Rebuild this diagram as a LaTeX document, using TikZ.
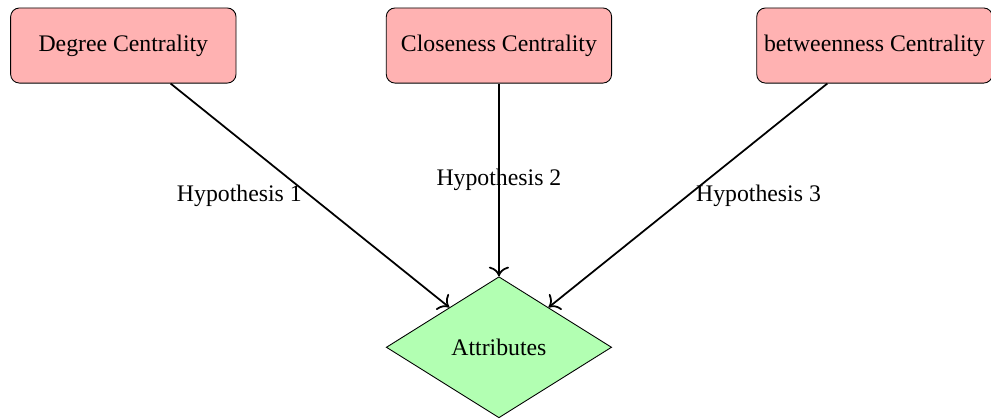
\documentclass[tikz,border=0pt]{standalone}
\usepackage{fontspec}
\setmainfont{Liberation Serif}
\usepackage{tikz}
\usetikzlibrary{shapes.geometric, arrows.meta}

\begin{document}
\begin{tikzpicture}[node distance={6cm}, thick, >={To[scale=1.3]}, font=\fontsize{10.8}{13}\selectfont,
    cent/.style = {draw, thin, rounded corners, fill=red!30, minimum width=3.6cm, minimum height=1.2cm},
    attr/.style = {draw, thin, diamond, fill=green!30, minimum width=3.6cm, minimum height=2.25cm}]
    \useasboundingbox (-1.97,0.727) rectangle (13.86,-5.97);
    \node[cent] (1) {Degree Centrality};
    \node[cent] (2) [right of=1] {Closeness Centrality};
    \node[cent] (3) [right of=2] {betweenness Centrality};
    \node[attr] (4) [below of=2, node distance=4.82cm] {Attributes};
    \draw[->] (1) -- node[midway, left]{Hypothesis 1} (4);
    \draw[->] (2) -- node[midway]{Hypothesis 2} (4);
    \draw[->] (3) -- node[midway, right]{Hypothesis 3} (4);
  \end{tikzpicture}
\end{document}
